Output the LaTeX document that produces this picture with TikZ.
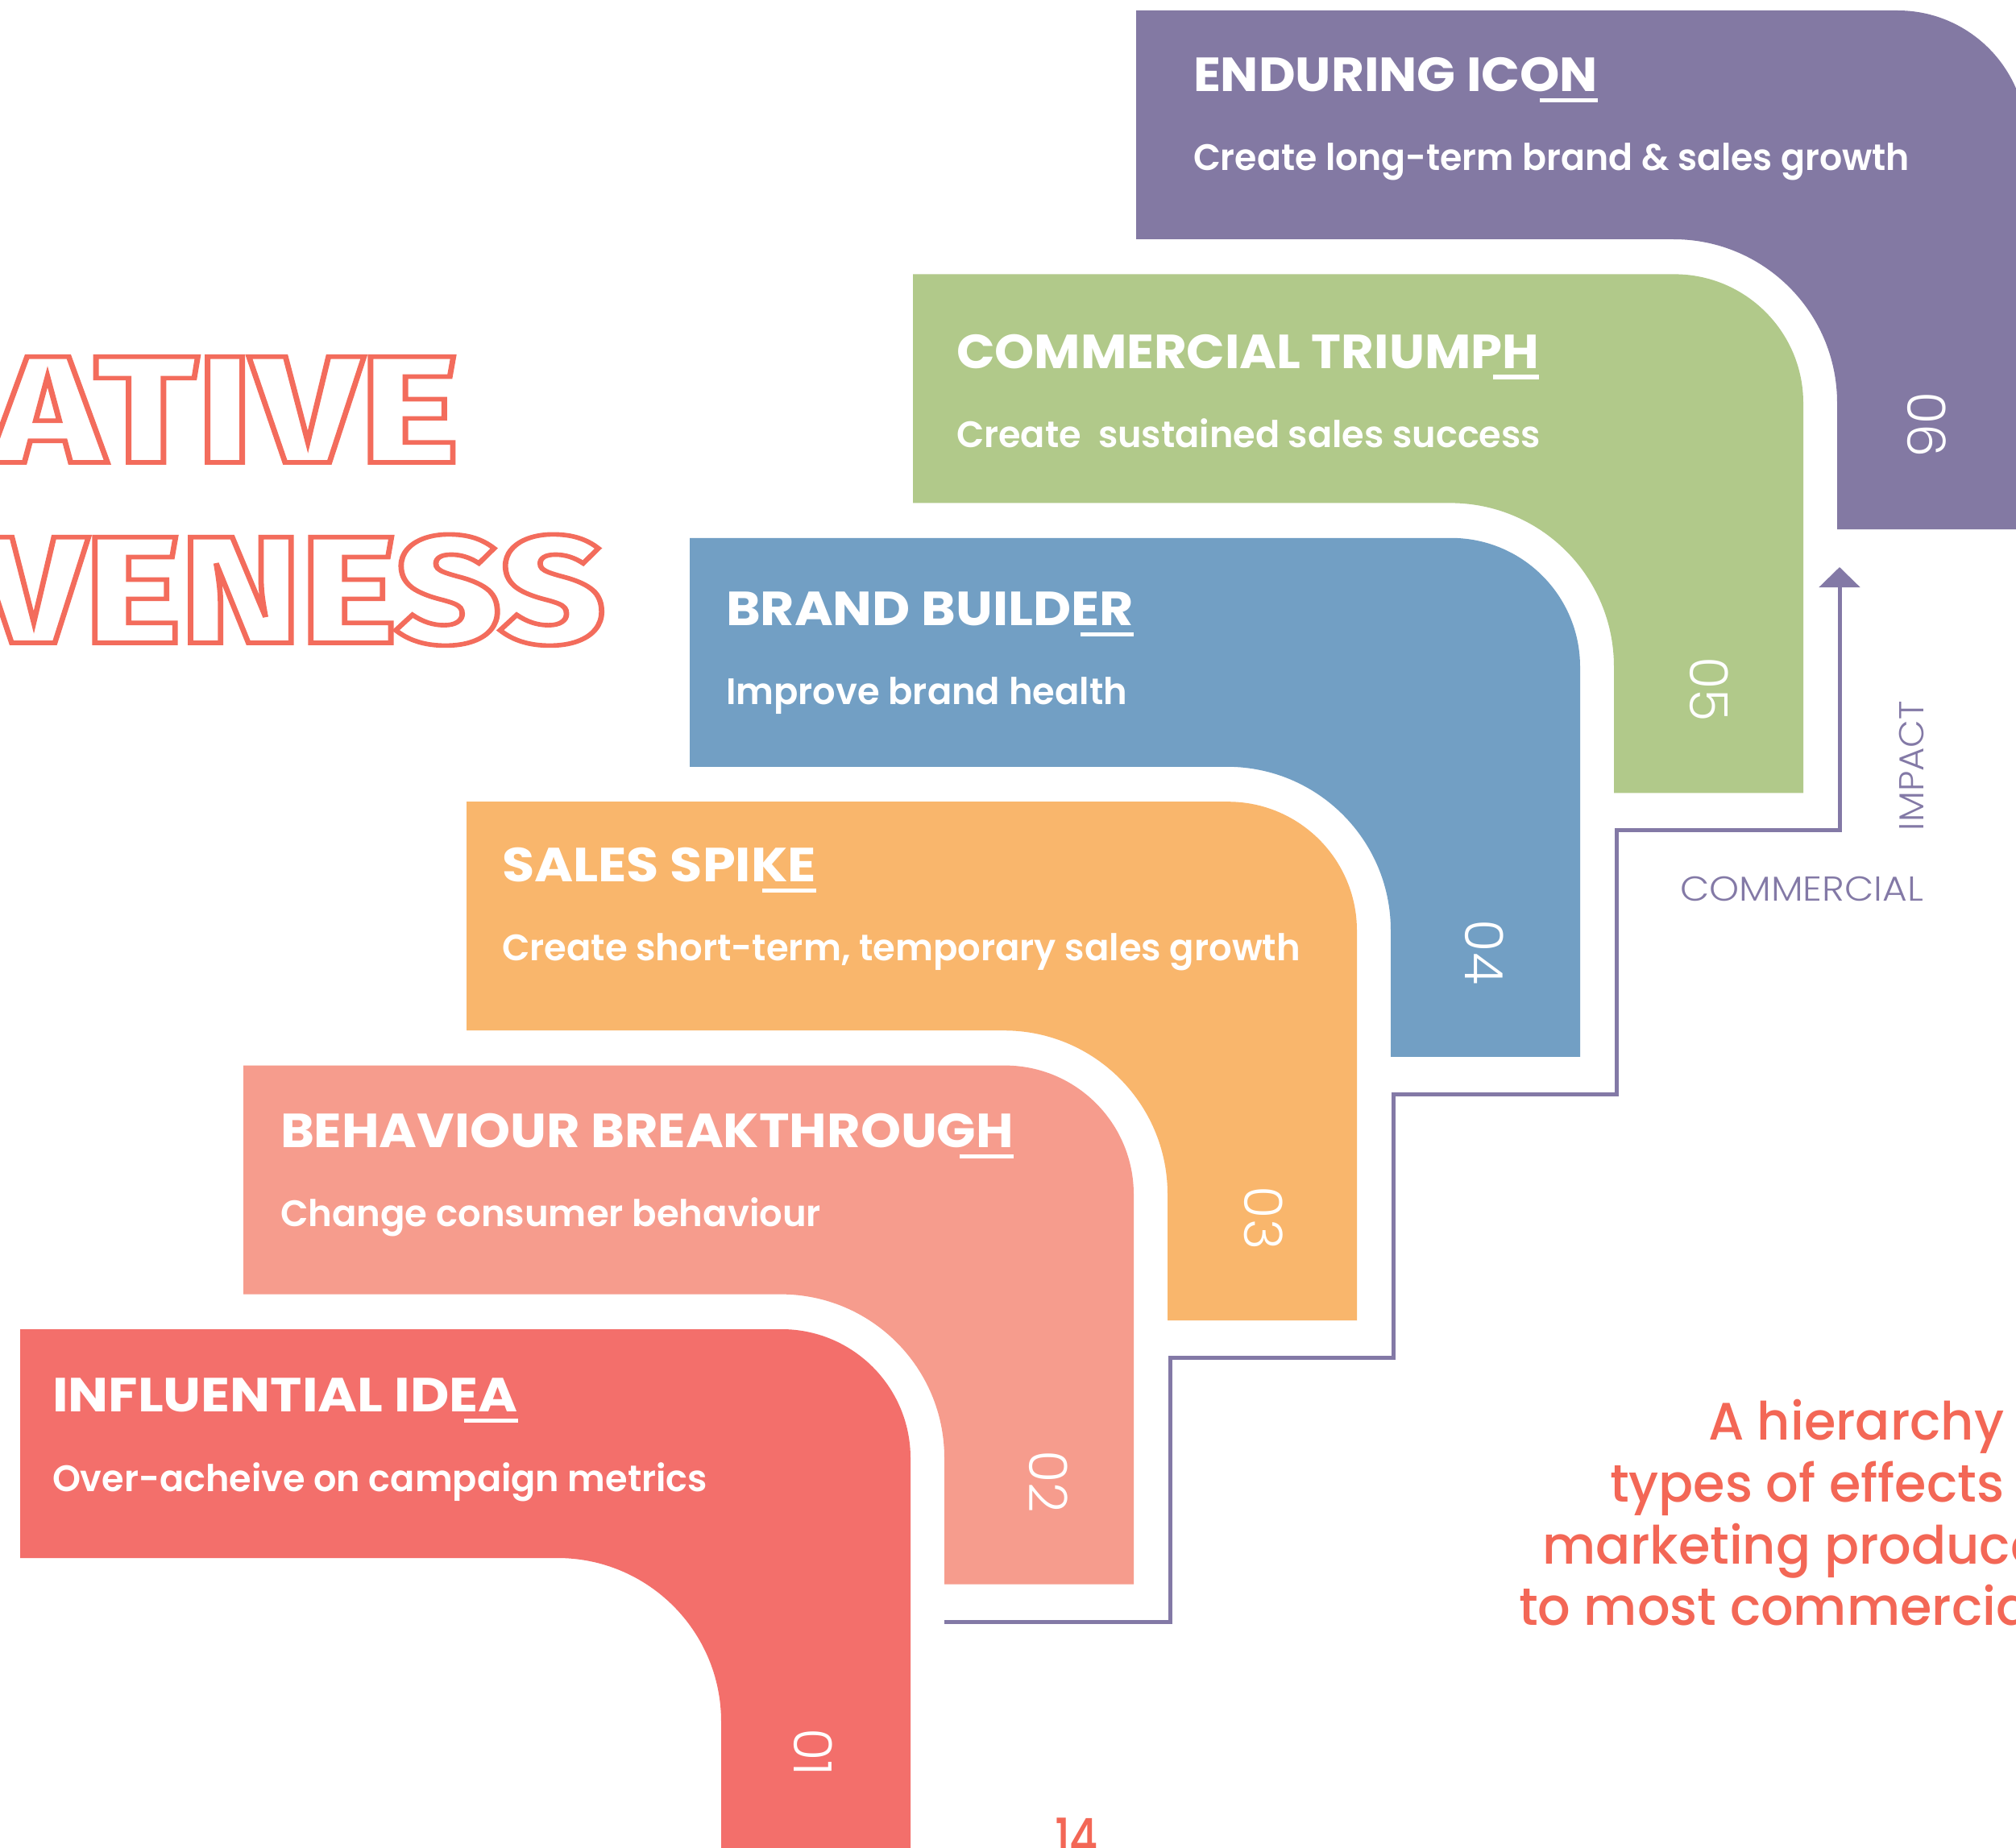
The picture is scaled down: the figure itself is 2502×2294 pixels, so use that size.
\documentclass[tikz,border=0pt]{standalone}
\usepackage{fontspec}
\usepackage{graphicx}
\usetikzlibrary{arrows.meta}
\setmainfont{Poppins}
\IfFontExistsTF{Poppins SemiBold}{\newfontfamily\subfont{Poppins SemiBold}}{\newfontfamily\subfont{Poppins}[FakeBold=1]}
\IfFontExistsTF{Poppins Medium}{\newfontfamily\medfont{Poppins Medium}}{\newfontfamily\medfont{Poppins}}
\IfFontExistsTF{Poppins Light}{\newfontfamily\lightfont{Poppins Light}}{\newfontfamily\lightfont{Poppins}}
\IfFontExistsTF{Fira Sans ExtraBold}{\newfontfamily\bigfont{Fira Sans ExtraBold}}{\newfontfamily\bigfont{Fira Sans}[UprightFont=* Bold]}

\definecolor{c01}{HTML}{F36F6B}
\definecolor{c02}{HTML}{F69C8D}
\definecolor{c03}{HTML}{F9B66C}
\definecolor{c04}{HTML}{729FC4}
\definecolor{c05}{HTML}{B1C98A}
\definecolor{c06}{HTML}{8379A3}
\definecolor{axisc}{HTML}{8379A6}
\definecolor{coral}{HTML}{F36756}
\definecolor{outl}{HTML}{F36C5C}

\newdimen\pxu \pxu=0.01cm
\newlength\hw
% squeeze or stretch a text horizontally to a width given in pixels
\newcommand\fitx[2]{\resizebox{#1\pxu}{\height}{#2}}
% stroke the glyph outlines instead of filling them
\newcommand\strokedtext[1]{\special{pdf:literal direct 1 Tr 1.6 w}#1\special{pdf:literal direct 0 Tr}}

% one L-shaped band: colour, left edge, top edge
\newcommand\stepband[3]{%
  \fill[#1] (#2,#3) -- ({#2+945},#3) arc[start angle=-90,end angle=0,radius=160]
    -- ({#2+1105},{#3+644}) -- ({#2+870},{#3+644}) -- ({#2+870},{#3+487})
    arc[start angle=0,end angle=-90,radius=203] -- (#2,{#3+284}) -- cycle;}

% short bar under the last letters of a heading
\newcommand\ulast[2]{%
  \draw[uline] ([shift={(-#2,11)}]#1.base east) -- ([shift={(0,11)}]#1.base east);}

\tikzset{
  txt/.style={inner sep=0pt, outer sep=0pt, text=white},
  ttl/.style={txt, anchor=base west, font=\fontsize{16.9pt}{20pt}\selectfont\bfseries},
  sub/.style={txt, anchor=base west, font=\fontsize{13pt}{16pt}\subfont},
  num/.style={txt, rotate=-90, font=\fontsize{18.6pt}{22pt}\lightfont},
  hier/.style={inner sep=0pt, outer sep=0pt, anchor=base west, text=coral, font=\fontsize{18.6pt}{22pt}\medfont},
  axlab/.style={inner sep=0pt, outer sep=0pt, text=axisc, font=\fontsize{12.2pt}{15pt}\lightfont},
  big/.style={inner sep=0pt, outer sep=0pt, anchor=base east, text=outl, font=\fontsize{53.7pt}{60pt}\bigfont},
  uline/.style={draw=white, line width=0.05cm},
  axis/.style={draw=axisc, line width=0.05cm},
}

\begin{document}
\settowidth\hw{\fontsize{18.6pt}{22pt}\medfont A hierarchy}%
\pgfmathsetmacro\hsx{367*0.284528/\hw}%
\begin{tikzpicture}[x=0.01cm, y=-0.01cm]
\useasboundingbox (0,0) rectangle (2502,2294);
\clip (0,0) rectangle (2502,2294);
\fill[white] (0,0) rectangle (2502,2294);

% outlined headline letters
\node[big] (wordA) at (569,574) {\fitx{579}{\strokedtext{ATIVE}}};
\node[big] (wordB) at (751,798) {\fitx{776}{\strokedtext{VENESS}}};

% the six bands
\stepband{c06}{1410}{13}
\stepband{c05}{1133}{340.4}
\stepband{c04}{856}{667.8}
\stepband{c03}{579}{995.2}
\stepband{c02}{302}{1322.6}
\stepband{c01}{25}{1650}

% headings and descriptions
\node[ttl] (t6) at (1481,113.8) {\fitx{502}{ENDURING ICON}};
\node[sub] (s6) at (1481,212) {\fitx{889}{Create long-term brand \& sales growth}};
\node[ttl] (t5) at (1187,457) {\fitx{723}{COMMERCIAL TRIUMPH}};
\node[sub] (s5) at (1187,555) {\fitx{725}{Create\ \ sustained sales success}};
\node[ttl] (t4) at (901,776) {\fitx{506}{BRAND BUILDER}};
\node[sub] (s4) at (901,874) {\fitx{498}{Improve brand health}};
\node[ttl] (t3) at (623,1094) {\fitx{390}{SALES SPIKE}};
\node[sub] (s3) at (623,1192) {\fitx{991}{Create short-term, temporary sales growth}};
\node[ttl] (t2) at (348,1424) {\fitx{910}{BEHAVIOUR BREAKTHROUGH}};
\node[sub] (s2) at (348,1522) {\fitx{671}{Change consumer behaviour}};
\node[ttl] (t1) at (65,1752) {\fitx{578}{INFLUENTIAL IDEA}};
\node[sub] (s1) at (65,1851) {\fitx{813}{Over-acheive on campaign metrics}};

\ulast{t6}{72}
\ulast{t5}{57}
\ulast{t4}{66}
\ulast{t3}{67}
\ulast{t2}{67}
\ulast{t1}{67}

% band numbers
\node[num] (n6) at (2391,527) {06};
\node[num] (n5) at (2121,856) {05};
\node[num] (n4) at (1842,1182) {04};
\node[num] (n3) at (1568,1512) {03};
\node[num] (n2) at (1301,1839) {02};
\node[num] (n1) at (1009,2175) {01};

% stepped axis
\coordinate (a0) at (1172,2013);
\coordinate (a1) at (1452,2013);
\coordinate (a2) at (1452,1685);
\coordinate (a3) at (1729,1685);
\coordinate (a4) at (1729,1358);
\coordinate (a5) at (2006,1358);
\coordinate (a6) at (2006,1030);
\coordinate (a7) at (2283,1030);
\coordinate (a8) at (2283,704);
\draw[axis, -{Triangle[length=0.25cm,width=0.5cm]}]
  (a0) -- (a1) -- (a2) -- (a3) -- (a4) -- (a5) -- (a6) -- (a7) -- (a8);
\node[axlab, rotate=90] (imp) at (2372,950.5) {\fitx{161}{IMPACT}};
\node[axlab, anchor=base west] (com) at (2085,1118) {\fitx{302}{COMMERCIAL}};

% caption
\node[hier] (h1) at (2120,1787) {\scalebox{\hsx}[1]{A hierarchy}};
\node[hier] (h2) at (1998,1864) {\scalebox{\hsx}[1]{types of effects}};
\node[hier] (h3) at (1914,1941) {\scalebox{\hsx}[1]{marketing produce}};
\node[hier] (h4) at (1885,2017) {\scalebox{\hsx}[1]{to most commercia}};

% page number
\node[hier] (pg) at (1309,2304) {\fitx{54}{14}};
\end{tikzpicture}
\end{document}
